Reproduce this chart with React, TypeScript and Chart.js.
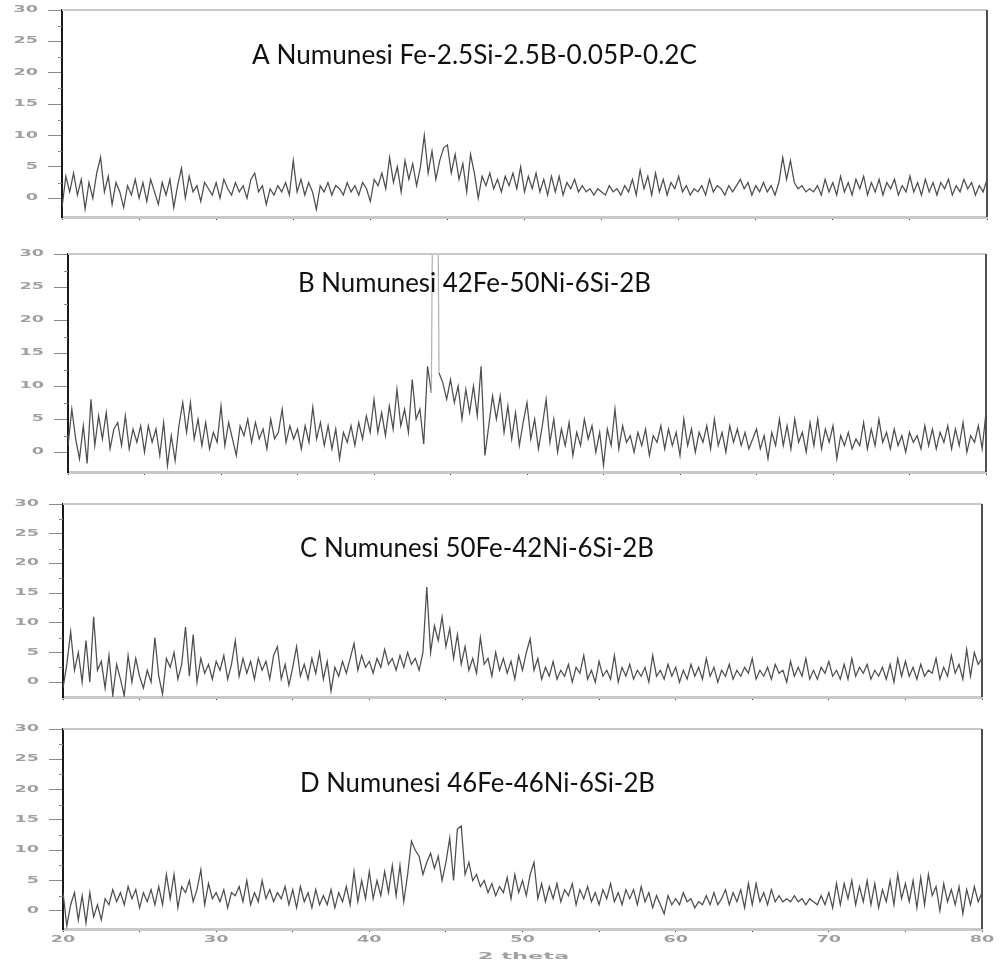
import React, { useEffect, useRef } from "react";
import { Chart, registerables } from "chart.js";

Chart.register(...registerables);

// ---------- data ----------
const TWO_THETA_START = 20;
const TWO_THETA_STEP = 0.25;

const SAMPLE_A: number[] = [
  -1.5, 3.5, 1.0, 4.0,
  0.5, 3.0, -1.7, 2.5,
  0.0, 4.0, 6.5, 1.0,
  3.5, -1.0, 2.5, 1.0,
  -1.5, 2.0, 0.5, 3.0,
  0.0, 2.5, -0.5, 3.0,
  1.0, -1.0, 2.5, 0.5,
  3.0, -1.5, 2.0, 4.8,
  0.0, 3.5, 1.0, 2.0,
  -0.5, 2.5, 1.5, 0.5,
  2.5, 0.0, 3.0, 1.5,
  0.5, 2.5, 1.0, 2.0,
  0.0, 3.0, 4.0, 1.0,
  2.0, -1.0, 1.5, 0.5,
  2.0, 1.0, 2.5, 0.5,
  6.0, 1.0, 3.0, 0.5,
  2.5, 1.0, -1.8, 2.0,
  1.0, 2.5, 0.5, 2.0,
  1.5, 0.5, 2.5, 1.0,
  2.0, 0.5, 2.5, 1.5,
  -0.5, 3.0, 2.0, 4.0,
  1.5, 6.5, 2.5, 5.0,
  1.0, 6.0, 3.0, 5.5,
  2.0, 5.0, 10.0, 4.0,
  7.5, 3.0, 6.0, 8.0,
  8.5, 4.0, 7.0, 3.0,
  5.5, 1.0, 7.0, 4.0,
  0.0, 3.5, 2.0, 4.0,
  1.5, 3.0, 1.0, 3.5,
  2.0, 4.0, 1.5, 5.0,
  1.0, 3.5, 1.5, 4.0,
  1.0, 3.0, 0.5, 3.5,
  1.0, 3.5, 0.5, 2.5,
  1.5, 3.0, 1.0, 2.0,
  1.0, 1.5, 0.5, 1.5,
  1.0, 0.5, 2.0, 1.0,
  1.5, 0.5, 2.0, 1.0,
  3.0, 0.5, 4.5, 1.5,
  3.5, 0.5, 4.0, 1.0,
  3.0, 0.5, 2.5, 1.5,
  3.5, 1.0, 2.0, 0.5,
  1.5, 1.0, 2.0, 0.5,
  3.0, 1.0, 2.0, 1.5,
  0.5, 2.0, 1.0, 2.0,
  3.0, 1.5, 2.5, 0.5,
  2.0, 1.0, 2.5, 1.0,
  2.0, 0.5, 2.5, 6.5,
  3.0, 6.0, 2.5, 1.5,
  2.0, 1.0, 1.5, 1.0,
  2.0, 0.5, 3.0, 1.0,
  2.5, 0.5, 3.5, 1.0,
  2.5, 0.5, 3.0, 1.5,
  3.5, 0.5, 2.5, 1.0,
  3.0, 0.5, 2.5, 1.5,
  3.0, 0.5, 2.0, 1.0,
  3.5, 1.0, 2.5, 0.5,
  3.0, 1.0, 2.5, 0.5,
  2.5, 1.5, 3.0, 0.5,
  2.0, 1.0, 3.0, 1.5,
  2.5, 0.5, 2.0, 1.0,
  3.0,
];

const SAMPLE_B: number[] = [
  1.0, 6.5, 2.0, -1.0,
  4.0, -1.7, 8.0, 1.0,
  5.5, 2.0, 6.0, 0.5,
  3.5, 4.5, 1.0, 5.5,
  0.5, 3.5, 1.5, 4.0,
  0.0, 4.0, 1.5, 3.5,
  -0.5, 4.5, -2.0, 2.5,
  -1.3, 4.0, 7.5, 3.0,
  7.5, 2.0, 5.0, 1.0,
  4.5, 0.5, 3.0, 1.5,
  7.0, 1.0, 4.5, 2.0,
  -0.5, 4.0, 2.5, 5.0,
  1.5, 4.5, 2.0, 3.5,
  0.5, 5.0, 2.0, 3.0,
  6.5, 1.5, 4.0, 2.0,
  3.5, 0.5, 4.0, 1.5,
  6.8, 2.0, 4.5, 1.0,
  4.0, 0.5, 3.5, -1.0,
  3.0, 1.5, 4.0, 1.0,
  4.5, 2.0, 5.5, 3.0,
  8.0, 3.0, 6.0, 2.5,
  7.0, 3.5, 9.5, 4.0,
  6.5, 3.0, 11.0, 5.0,
  6.5, 1.2, 13.0, 9.0,
  100.0, 12.0, 10.5, 8.0,
  11.0, 7.5, 10.0, 5.0,
  9.5, 6.0, 10.0, 5.5,
  13.0, -0.5, 4.0, 8.5,
  5.0, 8.5, 3.0, 7.0,
  2.0, 6.0, 1.0, 4.5,
  7.5, 2.0, 5.0, 0.5,
  4.0, 8.0, 1.5, 5.0,
  0.0, 3.5, 1.0, 4.5,
  -0.5, 3.0, 1.0, 5.0,
  2.0, 4.0, 0.0, 3.0,
  -2.0, 3.5, 1.0, 6.5,
  0.5, 4.0, 1.5, 2.5,
  0.0, 3.0, 1.0, 3.5,
  -0.5, 2.5, 1.5, 4.0,
  0.5, 3.5, 1.0, 3.0,
  -0.5, 5.0, 1.0, 3.5,
  0.0, 3.0, 1.5, 4.0,
  0.5, 5.0, 1.0, 3.0,
  0.0, 4.0, 1.5, 3.5,
  1.0, 3.0, 0.5, 2.0,
  3.5, 0.5, 2.5, -1.0,
  3.0, 1.0, 5.0, 1.0,
  4.0, 0.5, 5.0, 1.5,
  3.0, 0.0, 4.5, 1.0,
  5.0, 0.5, 3.5, 1.5,
  4.0, -1.0, 2.5, 1.0,
  3.0, 0.5, 2.0, 1.0,
  4.5, 0.5, 3.5, 1.0,
  5.0, 1.5, 3.0, 0.5,
  3.5, 1.0, 2.5, 0.0,
  3.0, 1.5, 2.5, 0.5,
  4.0, 1.0, 3.5, 0.5,
  3.0, 1.5, 4.0, 0.5,
  3.5, 1.0, 4.5, 0.0,
  2.5, 1.5, 4.0, 0.5,
  6.0,
];

const SAMPLE_C: number[] = [
  -1.0, 3.0, 8.5, 2.0,
  5.0, 0.0, 7.0, 0.0,
  11.0, 2.0, 3.5, -1.0,
  4.5, -2.3, 3.0, 0.5,
  -2.3, 4.5, 0.0, 4.0,
  1.0, -1.0, 2.0, 0.0,
  7.5, 1.0, -2.0, 4.0,
  2.5, 5.0, 0.5, 3.0,
  9.3, 1.0, 8.0, 0.0,
  4.0, 1.5, 3.0, 0.5,
  3.5, 2.0, 4.5, 0.5,
  3.0, 7.0, 1.0, 4.0,
  1.5, 3.5, 0.5, 4.0,
  2.0, 3.5, 0.5, 4.5,
  6.0, 0.5, 3.0, -0.5,
  2.5, 6.0, 1.0, 3.0,
  0.5, 4.0, 1.5, 5.0,
  0.5, 3.5, -1.5, 2.5,
  1.0, 3.5, 1.5, 4.0,
  6.5, 2.0, 4.5, 2.5,
  3.5, 1.5, 4.0, 2.5,
  5.5, 3.0, 4.0, 2.0,
  4.5, 2.5, 5.0, 3.0,
  4.0, 2.0, 5.0, 16.0,
  5.0, 9.5, 7.0, 11.0,
  6.0, 9.0, 4.0, 8.0,
  3.0, 6.0, 2.0, 4.0,
  1.5, 7.5, 3.0, 4.0,
  1.0, 5.0, 2.0, 4.0,
  1.5, 3.5, 0.5, 4.5,
  2.0, 5.0, 7.3, 2.0,
  4.0, 0.5, 2.5, 1.0,
  3.5, 0.5, 2.0, 1.0,
  3.0, 0.0, 2.5, 1.5,
  4.5, 0.5, 2.0, 0.0,
  3.5, 1.0, 2.0, 0.5,
  4.5, 0.0, 2.5, 1.0,
  3.0, 0.5, 2.0, 1.0,
  2.5, 0.0, 4.5, 1.0,
  2.0, 0.5, 3.0, 1.0,
  2.5, 0.0, 2.0, 0.5,
  3.0, 1.0, 2.5, 0.5,
  4.0, 1.0, 2.5, 0.0,
  2.0, 1.0, 3.0, 0.5,
  2.0, 1.0, 2.5, 1.5,
  4.0, 0.5, 2.0, 1.0,
  2.5, 0.5, 3.0, 1.5,
  2.0, 0.0, 3.5, 1.0,
  2.5, 1.0, 4.0, 0.5,
  2.0, 0.5, 2.5, 1.5,
  3.5, 1.0, 2.0, 0.5,
  3.0, 0.5, 4.0, 1.0,
  2.5, 1.5, 3.0, 0.5,
  2.0, 1.0, 2.5, 0.5,
  3.0, 0.0, 4.0, 1.0,
  3.5, 1.0, 2.5, 0.5,
  3.0, 1.0, 2.0, 1.5,
  4.0, 0.5, 2.5, 1.0,
  4.5, 1.5, 3.0, 0.5,
  5.5, 1.0, 5.0, 3.0,
  4.0,
];

const SAMPLE_D: number[] = [
  3.0, -2.5, 1.0, 3.0,
  -1.5, 2.5, -2.0, 3.0,
  -1.0, 1.0, -1.5, 2.0,
  1.0, 3.5, 1.5, 3.0,
  1.0, 4.0, 2.0, 3.5,
  0.5, 3.0, 1.5, 3.5,
  1.0, 4.0, 1.0, 6.0,
  2.0, 6.0, 0.5, 4.0,
  3.0, 5.0, 1.5, 3.5,
  6.8, 1.0, 4.5, 2.0,
  3.0, 1.5, 3.5, 0.5,
  3.0, 2.5, 4.0, 1.5,
  5.0, 1.0, 3.0, 1.5,
  5.0, 2.0, 3.5, 1.5,
  3.0, 2.0, 4.0, 1.0,
  3.5, 0.5, 4.0, 1.5,
  3.0, 0.5, 3.5, 1.0,
  2.5, 1.0, 3.5, 0.5,
  3.0, 1.5, 4.0, 1.0,
  6.5, 1.5, 5.0, 2.0,
  6.5, 2.0, 5.0, 2.5,
  6.5, 3.0, 7.5, 2.5,
  7.5, 1.5, 6.0, 11.5,
  10.0, 9.0, 6.0, 8.0,
  9.5, 7.0, 9.0, 5.0,
  8.0, 12.0, 5.0, 13.5,
  14.0, 6.0, 8.0, 5.0,
  6.0, 4.0, 5.0, 3.0,
  4.5, 2.5, 4.0, 3.0,
  5.5, 2.0, 6.0, 3.0,
  5.0, 2.5, 6.0, 8.0,
  2.0, 4.5, 1.5, 4.0,
  2.0, 4.5, 1.5, 3.5,
  2.5, 4.5, 1.0, 3.5,
  2.0, 4.0, 1.5, 3.0,
  1.0, 3.5, 2.0, 4.5,
  1.5, 3.0, 1.0, 3.5,
  2.0, 3.5, 1.0, 4.0,
  1.5, 3.0, 0.5, 2.5,
  1.0, -0.5, 2.5, 1.0,
  2.0, 1.0, 3.0, 1.5,
  2.0, 0.5, 1.5, 1.0,
  2.5, 1.0, 3.0, 1.0,
  2.0, 3.5, 1.0, 3.0,
  1.5, 3.5, 0.5, 4.5,
  1.0, 4.5, 1.5, 3.0,
  1.0, 3.5, 1.5, 2.5,
  1.5, 2.0, 1.5, 2.5,
  1.5, 2.0, 1.0, 2.0,
  1.5, 1.0, 2.5, 1.0,
  3.0, 0.5, 4.5, 1.0,
  4.5, 2.0, 5.0, 1.0,
  4.0, 1.5, 5.0, 1.0,
  4.5, 0.5, 3.5, 1.5,
  5.0, 1.0, 6.0, 2.0,
  4.5, 1.5, 5.0, 0.5,
  5.5, 1.0, 6.0, 2.5,
  4.0, 0.0, 4.5, 1.5,
  3.5, 1.0, 4.0, -0.5,
  3.5, 1.0, 4.0, 1.5,
  3.0,
];

const SAMPLES = [SAMPLE_A, SAMPLE_B, SAMPLE_C, SAMPLE_D];
const TITLES = [
  "A Numunesi Fe-2.5Si-2.5B-0.05P-0.2C",
  "B Numunesi 42Fe-50Ni-6Si-2B",
  "C Numunesi 50Fe-42Ni-6Si-2B",
  "D Numunesi 46Fe-46Ni-6Si-2B",
];
const X_MIN = 20;
const X_MAX = 80;
const X_TICK_STEP = 5;
const X_LABEL_STEP = 10;
const Y_MAX = 30;
const Y_TICK_STEP = 5;
const Y_MINOR_STEP = 2.5;
const X_AXIS_TITLE = "2 theta";

// ---------- layout (page pixels) ----------
const PAGE_W = 1001;
const PAGE_H = 970;
const LAYOUT = [
  { top: 0, height: 228, areaTop: 10, areaBottom: 217, left: 62, right: 987, yMin: -3, titleLeft: 252, titleRight: 697, titleBase: 64 },
  { top: 240, height: 236, areaTop: 254, areaBottom: 472, left: 68, right: 986, yMin: -3, titleLeft: 298, titleRight: 651, titleBase: 292 },
  { top: 488, height: 214, areaTop: 504, areaBottom: 697, left: 63, right: 982, yMin: -2.5, titleLeft: 300, titleRight: 654, titleBase: 557 },
  { top: 712, height: 258, areaTop: 729, areaBottom: 929, left: 63, right: 982, yMin: -3, titleLeft: 300, titleRight: 655, titleBase: 792 },
];

const LINE_COLOR = "#4e4e4e";
const PEAK_COLOR = "#b4b4b4";
const TICK_LABEL_COLOR = "#a0a0a0";
const TICK_FONT = "bold 8px 'DejaVu Sans'";
const TICK_STRETCH = 2.2;

function stretchText(
  ctx: CanvasRenderingContext2D,
  text: string,
  x: number,
  y: number,
  font: string,
  sx: number,
  align: CanvasTextAlign
) {
  ctx.save();
  ctx.font = font;
  ctx.textBaseline = "middle";
  ctx.textAlign = align;
  ctx.translate(x, y);
  ctx.scale(sx, 1);
  ctx.fillText(text, 0, 0);
  ctx.restore();
}

function Panel({ index }: { index: number }) {
  const ref = useRef<HTMLCanvasElement | null>(null);
  const L = LAYOUT[index];
  const isLast = index === LAYOUT.length - 1;

  useEffect(() => {
    if (!ref.current) return;
    const values = SAMPLES[index];
    const points = values.map((y, i) => ({ x: TWO_THETA_START + i * TWO_THETA_STEP, y }));

    const decor = {
      id: "decor" + index,
      afterDraw(chart: any) {
        const ctx: CanvasRenderingContext2D = chart.ctx;
        const a = chart.chartArea;
        const ys = chart.scales.y;
        const xs = chart.scales.x;
        ctx.save();
        // top border
        ctx.strokeStyle = "#c8c8c8";
        ctx.lineWidth = 2;
        ctx.beginPath();
        ctx.moveTo(a.left, a.top);
        ctx.lineTo(a.right, a.top);
        ctx.stroke();
        // right border
        ctx.strokeStyle = "#505050";
        ctx.lineWidth = 2;
        ctx.beginPath();
        ctx.moveTo(a.right, a.top);
        ctx.lineTo(a.right, a.bottom);
        ctx.stroke();
        // minor y ticks
        ctx.strokeStyle = "#888";
        ctx.lineWidth = 1;
        for (let v = Y_MINOR_STEP; v < Y_MAX; v += Y_TICK_STEP) {
          const py = Math.round(ys.getPixelForValue(v)) + 0.5;
          ctx.beginPath();
          ctx.moveTo(a.left - 4, py);
          ctx.lineTo(a.left, py);
          ctx.stroke();
        }
        // y tick labels
        ctx.fillStyle = TICK_LABEL_COLOR;
        for (const t of ys.ticks) {
          const py = ys.getPixelForValue(t.value);
          stretchText(ctx, String(t.value), a.left - 24, py, TICK_FONT, TICK_STRETCH, "right");
        }
        // x tick labels + axis title on the last panel
        if (isLast) {
          for (const t of xs.ticks) {
            if (t.value % X_LABEL_STEP !== 0) continue;
            const px = xs.getPixelForValue(t.value);
            stretchText(ctx, String(t.value), px, a.bottom + 11, TICK_FONT, TICK_STRETCH, "center");
          }
          stretchText(ctx, X_AXIS_TITLE, (a.left + a.right) / 2 + 1, a.bottom + 28, "bold 9px 'DejaVu Sans'", 2.5, "center");
        }
        // panel title
        ctx.fillStyle = "#111";
        ctx.font = "26px Lato";
        ctx.textBaseline = "alphabetic";
        ctx.textAlign = "left";
        const w = ctx.measureText(TITLES[index]).width;
        const k = (L.titleRight - L.titleLeft) / w;
        ctx.translate(L.titleLeft, L.titleBase - L.top);
        ctx.scale(k, 1);
        ctx.fillText(TITLES[index], 0, 0);
        ctx.restore();
      },
    };

    const chart = new Chart(ref.current, {
      type: "line",
      data: {
        datasets: [
          {
            data: points,
            borderColor: LINE_COLOR,
            borderWidth: 1.25,
            pointRadius: 0,
            tension: 0,
            fill: false,
            segment: {
              borderColor: (c: any) =>
                c.p0.parsed.y > 20 || c.p1.parsed.y > 20 ? PEAK_COLOR : undefined,
            },
          },
        ],
      },
      options: {
        animation: false,
        responsive: false,
        maintainAspectRatio: false,
        events: [],
        layout: {
          padding: { top: L.areaTop - L.top, right: PAGE_W - L.right, left: 0, bottom: 0 },
        },
        plugins: { legend: { display: false }, tooltip: { enabled: false }, title: { display: false } },
        scales: {
          x: {
            type: "linear",
            min: X_MIN,
            max: X_MAX,
            ticks: { stepSize: X_TICK_STEP, display: false, autoSkip: false },
            grid: { drawOnChartArea: false, drawTicks: true, tickLength: 3, color: "#444", lineWidth: 1 },
            border: { display: true, color: "#c8c8c8", width: 3 },
            afterFit: (s: any) => {
              s.height = L.top + L.height - L.areaBottom;
            },
          },
          y: {
            type: "linear",
            min: L.yMin,
            max: Y_MAX,
            ticks: { stepSize: Y_TICK_STEP, display: false },
            afterBuildTicks: (s: any) => {
              s.ticks = s.ticks.filter((t: any) => t.value >= 0 && t.value % Y_TICK_STEP === 0);
            },
            grid: { drawOnChartArea: false, drawTicks: true, tickLength: 14, color: "#8a8a8a", lineWidth: 1 },
            border: { display: true, color: "#1a1a1a", width: 2 },
            afterFit: (s: any) => {
              s.width = L.left;
            },
          },
        },
      } as any,
      plugins: [decor],
    });
    return () => chart.destroy();
  }, [index]);

  return (
    <canvas
      ref={ref}
      width={PAGE_W}
      height={L.height}
      style={{ position: "absolute", left: 0, top: L.top, width: PAGE_W, height: L.height }}
    />
  );
}

export default function App() {
  useEffect(() => {
    document.body.style.margin = "0";
    document.body.style.background = "#fff";
  }, []);
  return (
    <div style={{ position: "relative", width: PAGE_W, height: PAGE_H, background: "#fff", overflow: "hidden" }}>
      {LAYOUT.map((_, i) => (
        <Panel key={i} index={i} />
      ))}
    </div>
  );
}
